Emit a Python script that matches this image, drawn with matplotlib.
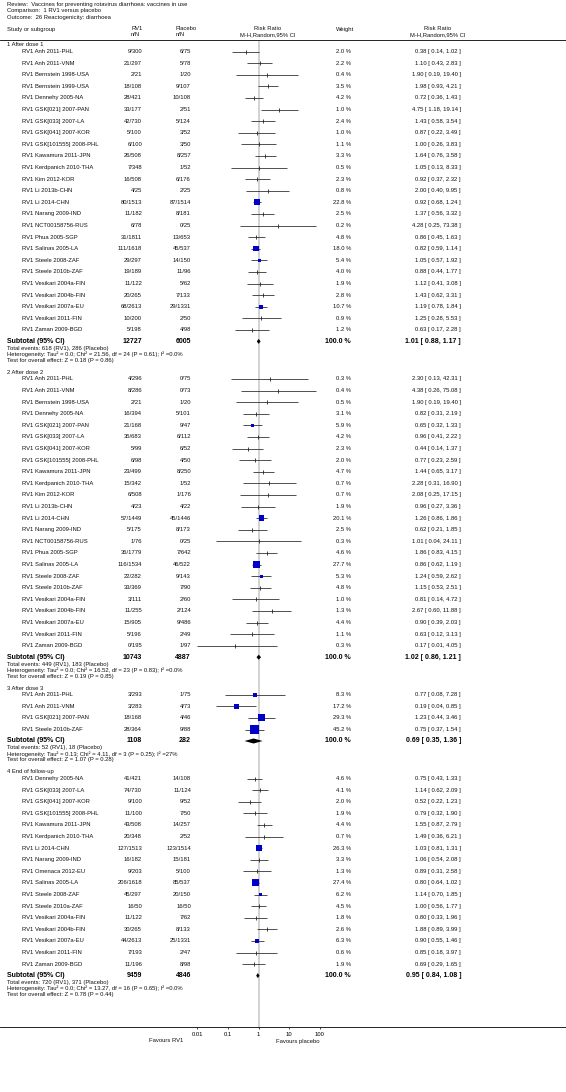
import numpy as np
import matplotlib.pyplot as plt
from matplotlib.ticker import NullLocator

plt.rcParams['font.family'] = ['Liberation Sans', 'DejaVu Sans']

# header lines
review_lines = ["Review:  Vaccines for preventing rotavirus diarrhoea: vaccines in use",
                "Comparison:  1 RV1 versus placebo",
                "Outcome:  26 Reactogenicity: diarrhoea"]

# 1 After dose 1
s1_title = "1 After dose 1"
s1_names = ["Anh 2011-PHL", "Anh 2011-VNM", "Bernstein 1998-USA", "Bernstein 1999-USA",
            "Dennehy 2005-NA", "GSK[021] 2007-PAN", "GSK[033] 2007-LA", "GSK[041] 2007-KOR",
            "GSK[101555] 2008-PHL", "Kawamura 2011-JPN", "Kerdpanich 2010-THA", "Kim 2012-KOR",
            "Li 2013b-CHN", "Li 2014-CHN", "Narang 2009-IND", "NCT00158756-RUS",
            "Phua 2005-SGP", "Salinas 2005-LA", "Steele 2008-ZAF", "Steele 2010b-ZAF",
            "Vesikari 2004a-FIN", "Vesikari 2004b-FIN", "Vesikari 2007a-EU", "Vesikari 2011-FIN",
            "Zaman 2009-BGD"]
s1_rv1 = ["9/300", "21/297", "2/21", "18/108", "28/421", "33/177", "42/730", "5/100",
          "6/100", "26/508", "7/348", "16/508", "4/25", "80/1513", "11/182", "6/78",
          "31/1811", "111/1618", "29/297", "19/189", "11/122", "20/265", "68/2613", "10/200",
          "5/198"]
s1_pla = ["6/75", "5/78", "1/20", "9/107", "10/108", "2/51", "5/124", "3/52",
          "3/50", "8/257", "1/52", "6/176", "2/25", "87/1514", "8/181", "0/25",
          "13/653", "45/537", "14/150", "11/96", "5/62", "7/133", "29/1331", "2/50",
          "4/98"]
s1_weight = [2.0, 2.2, 0.4, 3.5, 4.2, 1.0, 2.4, 1.0, 1.1, 3.3, 0.5, 2.3, 0.8, 22.8, 2.5, 0.2,
             4.8, 18.0, 5.4, 4.0, 1.9, 2.8, 10.7, 0.9, 1.2]
s1_rr = [0.38, 1.10, 1.90, 1.98, 0.72, 4.75, 1.43, 0.87, 1.00, 1.64, 1.05, 0.92, 2.00, 0.92,
         1.37, 4.28, 0.86, 0.82, 1.05, 0.88, 1.12, 1.43, 1.19, 1.25, 0.63]
s1_lo = [0.14, 0.43, 0.19, 0.93, 0.36, 1.18, 0.58, 0.22, 0.26, 0.76, 0.13, 0.37, 0.40, 0.68,
         0.56, 0.25, 0.45, 0.59, 0.57, 0.44, 0.41, 0.62, 0.78, 0.28, 0.17]
s1_hi = [1.02, 2.83, 19.40, 4.21, 1.43, 19.14, 3.54, 3.49, 3.83, 3.58, 8.33, 2.32, 9.95, 1.24,
         3.32, 73.38, 1.63, 1.14, 1.92, 1.77, 3.08, 3.31, 1.84, 5.53, 2.28]
s1_totals = ["12727", "6005"]
s1_pooled = [1.01, 0.88, 1.17]
s1_notes = ["Total events: 618 (RV1), 286 (Placebo)",
            "Heterogeneity: Tau² = 0.0; Chi² = 21.56, df = 24 (P = 0.61); I² =0.0%",
            "Test for overall effect: Z = 0.18 (P = 0.86)"]

# 2 After dose 2
s2_title = "2 After dose 2"
s2_names = ["Anh 2011-PHL", "Anh 2011-VNM", "Bernstein 1998-USA", "Dennehy 2005-NA",
            "GSK[021] 2007-PAN", "GSK[033] 2007-LA", "GSK[041] 2007-KOR", "GSK[101555] 2008-PHL",
            "Kawamura 2011-JPN", "Kerdpanich 2010-THA", "Kim 2012-KOR", "Li 2013b-CHN",
            "Li 2014-CHN", "Narang 2009-IND", "NCT00158756-RUS", "Phua 2005-SGP",
            "Salinas 2005-LA", "Steele 2008-ZAF", "Steele 2010b-ZAF", "Vesikari 2004a-FIN",
            "Vesikari 2004b-FIN", "Vesikari 2007a-EU", "Vesikari 2011-FIN", "Zaman 2009-BGD"]
s2_rv1 = ["4/296", "8/286", "2/21", "16/394", "21/168", "35/683", "5/99", "6/98", "23/499",
          "15/342", "6/508", "4/23", "57/1449", "5/175", "1/76", "36/1779", "116/1534",
          "22/282", "33/369", "3/111", "11/255", "15/905", "5/196", "0/195"]
s2_pla = ["0/75", "0/73", "1/20", "5/101", "9/47", "6/112", "6/52", "4/50", "8/250",
          "1/52", "1/176", "4/22", "45/1446", "8/173", "0/25", "7/642", "46/522",
          "9/143", "7/90", "2/60", "2/124", "9/486", "2/49", "1/97"]
s2_weight = [0.3, 0.4, 0.5, 3.1, 5.9, 4.2, 2.3, 2.0, 4.7, 0.7, 0.7, 1.9, 20.1, 2.5, 0.3, 4.6,
             27.7, 5.3, 4.8, 1.0, 1.3, 4.4, 1.1, 0.3]
s2_rr = [2.30, 4.38, 1.90, 0.82, 0.65, 0.96, 0.44, 0.77, 1.44, 2.28, 2.08, 0.96, 1.26, 0.62,
         1.01, 1.86, 0.86, 1.24, 1.15, 0.81, 2.67, 0.90, 0.63, 0.17]
s2_lo = [0.13, 0.26, 0.19, 0.31, 0.32, 0.41, 0.14, 0.23, 0.65, 0.31, 0.25, 0.27, 0.86, 0.21,
         0.04, 0.83, 0.62, 0.59, 0.53, 0.14, 0.60, 0.39, 0.12, 0.01]
s2_hi = [42.31, 75.08, 19.40, 2.19, 1.33, 2.22, 1.37, 2.59, 3.17, 16.90, 17.15, 3.36, 1.86,
         1.85, 24.11, 4.15, 1.19, 2.62, 2.51, 4.72, 11.88, 2.03, 3.13, 4.05]
s2_totals = ["10743", "4887"]
s2_pooled = [1.02, 0.86, 1.21]
s2_notes = ["Total events: 449 (RV1), 183 (Placebo)",
            "Heterogeneity: Tau² = 0.0; Chi² = 16.52, df = 23 (P = 0.83); I² =0.0%",
            "Test for overall effect: Z = 0.19 (P = 0.85)"]

# 3 After dose 3
s3_title = "3 After dose 3"
s3_names = ["Anh 2011-PHL", "Anh 2011-VNM", "GSK[021] 2007-PAN", "Steele 2010b-ZAF"]
s3_rv1 = ["3/293", "3/283", "18/168", "28/364"]
s3_pla = ["1/75", "4/73", "4/46", "9/88"]
s3_weight = [8.3, 17.2, 29.3, 45.2]
s3_rr = [0.77, 0.19, 1.23, 0.75]
s3_lo = [0.08, 0.04, 0.44, 0.37]
s3_hi = [7.28, 0.85, 3.46, 1.54]
s3_totals = ["1108", "282"]
s3_pooled = [0.69, 0.35, 1.36]
s3_notes = ["Total events: 52 (RV1), 18 (Placebo)",
            "Heterogeneity: Tau² = 0.13; Chi² = 4.11, df = 3 (P = 0.25); I² =27%",
            "Test for overall effect: Z = 1.07 (P = 0.28)"]

# 4 End of follow-up
s4_title = "4 End of follow-up"
s4_names = ["Dennehy 2005-NA", "GSK[033] 2007-LA", "GSK[041] 2007-KOR", "GSK[101555] 2008-PHL",
            "Kawamura 2011-JPN", "Kerdpanich 2010-THA", "Li 2014-CHN", "Narang 2009-IND",
            "Omenaca 2012-EU", "Salinas 2005-LA", "Steele 2008-ZAF", "Steele 2010a-ZAF",
            "Vesikari 2004a-FIN", "Vesikari 2004b-FIN", "Vesikari 2007a-EU", "Vesikari 2011-FIN",
            "Zaman 2009-BGD"]
s4_rv1 = ["41/421", "74/730", "9/100", "11/100", "43/508", "20/348", "127/1513", "16/182",
          "9/203", "206/1618", "45/297", "16/50", "11/122", "30/265", "44/2613", "7/193",
          "11/196"]
s4_pla = ["14/108", "11/124", "9/52", "7/50", "14/257", "2/52", "123/1514", "15/181",
          "5/100", "85/537", "20/150", "16/50", "7/62", "8/133", "25/1331", "2/47", "8/98"]
s4_weight = [4.6, 4.1, 2.0, 1.9, 4.4, 0.7, 26.3, 3.3, 1.3, 27.4, 6.2, 4.5, 1.8, 2.6, 6.3, 0.6, 1.9]
s4_rr = [0.75, 1.14, 0.52, 0.79, 1.55, 1.49, 1.03, 1.06, 0.89, 0.80, 1.14, 1.00, 0.80, 1.88,
         0.90, 0.85, 0.69]
s4_lo = [0.43, 0.62, 0.22, 0.32, 0.87, 0.36, 0.81, 0.54, 0.31, 0.64, 0.70, 0.56, 0.33, 0.89,
         0.55, 0.18, 0.29]
s4_hi = [1.33, 2.09, 1.23, 1.90, 2.79, 6.21, 1.31, 2.08, 2.58, 1.02, 1.85, 1.77, 1.96, 3.99,
         1.46, 3.97, 1.65]
s4_totals = ["9459", "4846"]
s4_pooled = [0.95, 0.84, 1.08]
s4_notes = ["Total events: 720 (RV1), 371 (Placebo)",
            "Heterogeneity: Tau² = 0.0; Chi² = 13.27, df = 16 (P = 0.65); I² =0.0%",
            "Test for overall effect: Z = 0.78 (P = 0.44)"]

axis_ticks = [0.01, 0.1, 1, 10, 100]
axis_labels = ["0.01", "0.1", "1", "10", "100"]

sections = [
    (s1_title, s1_names, s1_rv1, s1_pla, s1_weight, s1_rr, s1_lo, s1_hi, s1_totals, s1_pooled, s1_notes),
    (s2_title, s2_names, s2_rv1, s2_pla, s2_weight, s2_rr, s2_lo, s2_hi, s2_totals, s2_pooled, s2_notes),
    (s3_title, s3_names, s3_rv1, s3_pla, s3_weight, s3_rr, s3_lo, s3_hi, s3_totals, s3_pooled, s3_notes),
    (s4_title, s4_names, s4_rv1, s4_pla, s4_weight, s4_rr, s4_lo, s4_hi, s4_totals, s4_pooled, s4_notes),
]

# figure: one pixel-coordinate axes for text, one log axes for the forest
W, H = 566, 1092
axis_y = 1027
fig = plt.figure(figsize=(W / 100, H / 100), dpi=100)
tax = fig.add_axes([0, 0, 1, 1])
tax.set_xlim(0, W)
tax.set_ylim(H, 0)
tax.axis('off')

fax = fig.add_axes([0, (H - axis_y) / H, 1, axis_y / H])
fax.set_xscale('log')
one_px, dec_px = 258.5, 30.7
fax.set_xlim(10 ** (-one_px / dec_px), 10 ** ((W - one_px) / dec_px))
fax.set_ylim(axis_y, 0)
fax.patch.set_alpha(0)
for s in ['top', 'left', 'right']:
    fax.spines[s].set_visible(False)
fax.spines['bottom'].set_linewidth(0.6)
fax.set_yticks([])
fax.set_xticks(axis_ticks)
fax.set_xticklabels(axis_labels)
fax.xaxis.set_minor_locator(NullLocator())
fax.tick_params(axis='x', length=1.5, width=0.5, pad=2.0, labelsize=4.2)

fs = 4.25
fsb = 5.0
txt = dict(fontsize=fs, va='center', color='#111111')
bold = dict(fontsize=fsb, va='center', fontweight='bold', color='black')

# top text
for k, line in enumerate(review_lines):
    tax.text(7, 4.5 + 6.3 * k, line, ha='left', **txt)

tax.text(7, 29, "Study or subgroup", ha='left', **txt)
tax.text(131, 29, "RV1", ha='left', **txt)
tax.text(131, 35, "n/N", ha='left', **txt)
tax.text(176, 29, "Placebo", ha='left', **txt)
tax.text(176, 35, "n/N", ha='left', **txt)
tax.text(268, 29, "Risk Ratio", ha='center', **txt)
tax.text(268, 35, "M-H,Random,95% CI", ha='center', **txt)
tax.text(336, 29, "Weight", ha='left', **txt)
tax.text(438, 29, "Risk Ratio", ha='center', **txt)
tax.text(438, 35, "M-H,Random,95% CI", ha='center', **txt)
tax.axhline(40, color='black', lw=0.6)

# line of no effect
fax.plot([1, 1], [42, axis_y], color='#cfcfcf', lw=1.3, zorder=0)

d = 11.6
y = 45
for title, names, rv1, pla, weight, rr, lo, hi, totals, pooled, notes in sections:
    tax.text(7, y, title, ha='left', **txt)
    ys = y + 6.5 + d * np.arange(len(names))
    for i in range(len(names)):
        tax.text(22, ys[i], "RV1 " + names[i], ha='left', **txt)
        tax.text(142, ys[i], rv1[i], ha='right', **txt)
        tax.text(191, ys[i], pla[i], ha='right', **txt)
        tax.text(351, ys[i], f"{weight[i]:.1f} %", ha='right', **txt)
        tax.text(461, ys[i], f"{rr[i]:.2f} [ {lo[i]:.2f}, {hi[i]:.2f} ]", ha='right', **txt)
    fax.hlines(ys, lo, hi, color='#333333', lw=0.6, zorder=2)
    w = np.array(weight)
    side = 1.3 * np.sqrt(w)
    big = w >= 5
    fax.scatter(np.array(rr)[big], ys[big], s=(side[big] * 0.72) ** 2, marker='s',
                color='#0000c8', edgecolors='none', zorder=3)
    fax.scatter(np.array(rr)[~big], ys[~big], s=9, marker='|', color='#222222',
                linewidths=0.6, zorder=3)

    ysub = ys[-1] + 11.5
    tax.text(7, ysub, "Subtotal (95% CI)", ha='left', **bold)
    tax.text(142, ysub, totals[0], ha='right', **bold)
    tax.text(191, ysub, totals[1], ha='right', **bold)
    tax.text(351, ysub, "100.0 %", ha='right', **bold)
    tax.text(461, ysub, f"{pooled[0]:.2f} [ {pooled[1]:.2f}, {pooled[2]:.2f} ]", ha='right', **bold)
    h = 2.5
    fax.fill([pooled[1], pooled[0], pooled[2], pooled[0]], [ysub, ysub - h, ysub, ysub + h],
             color='black', lw=0, zorder=3)
    for k, note in enumerate(notes):
        tax.text(7, ysub + 7 + 6 * k, note, ha='left', **txt)
    y = ysub + 31

tax.text(166, 1041, "Favours RV1", ha='center', **txt)
tax.text(298, 1041, "Favours placebo", ha='center', **txt)

fig.savefig("out.png", dpi=100)
